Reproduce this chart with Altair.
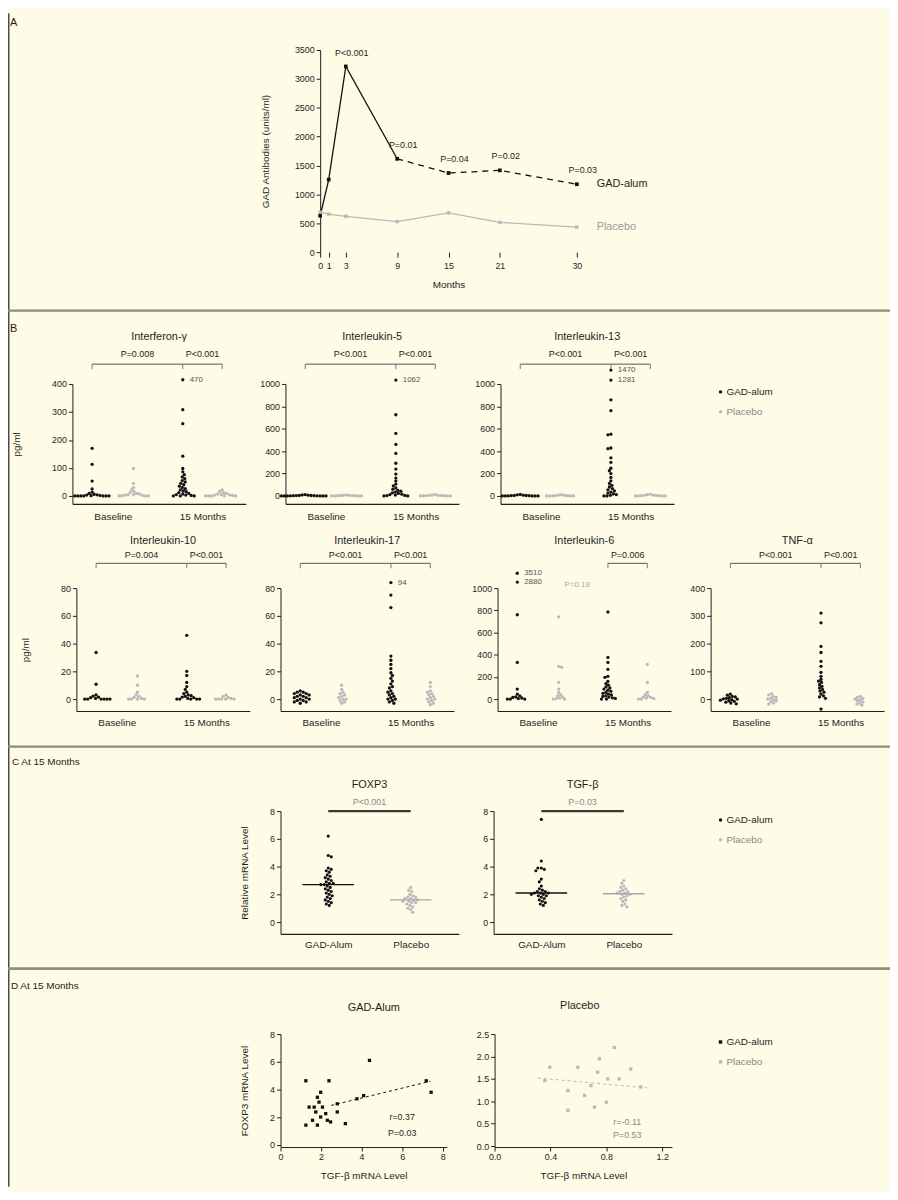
import statistics
import altair as alt
import pandas as pd

# ======================= DATA =======================
# Panel A: GAD antibody titres over time
A_MONTHS = [0, 1, 3, 9, 15, 21, 30]
A_GAD = [630, 1256, 3215, 1616, 1370, 1416, 1176]
A_PLACEBO = [690, 660, 620, 530, 680, 515, 435]
A_P_MONTHS = [3, 9, 15, 21, 30]
A_P_TEXT = ["P<0.001", "P=0.01", "P=0.04", "P=0.02", "P=0.03"]
A_X_TICKS = [0, 1, 3, 9, 15, 21, 30]
A_Y_TICKS = [0, 500, 1000, 1500, 2000, 2500, 3000, 3500]

# Panel B: cytokine secretion (GAD-alum baseline, placebo baseline, GAD-alum 15 m, placebo 15 m)
B_GROUP_LABELS = ["Baseline", "15 Months"]

IFNG_GAD_BASE = [170, 113, 53, 25, 14, 9, 6, 4, 3, 2, 1, 0, 0, 0, 0, 0, 0, 0]
IFNG_PLA_BASE = [98, 45, 30, 22, 16, 12, 9, 7, 5, 4, 3, 2, 1, 0, 0, 0]
IFNG_GAD_15 = [415, 308, 258, 142, 98, 86, 76, 68, 62, 55, 50, 45, 40, 35, 30, 26, 22, 18, 15, 12, 9, 7, 5, 3, 2, 0, 0, 0]
IFNG_PLA_15 = [22, 16, 12, 9, 7, 5, 4, 3, 2, 1, 0, 0, 0, 0]
IFNG_P = ["P=0.008", "P<0.001"]
IFNG_TOP_LABELS = ["470"]

IL5_GAD_BASE = [12, 9, 7, 5, 4, 3, 2, 2, 1, 1, 0, 0, 0, 0, 0, 0]
IL5_PLA_BASE = [9, 6, 5, 4, 3, 2, 1, 0, 0, 0, 0]
IL5_GAD_15 = [1035, 725, 558, 460, 380, 292, 240, 195, 160, 133, 106, 90, 72, 60, 50, 42, 35, 28, 22, 16, 12, 8, 5, 3, 0, 0]
IL5_PLA_15 = [14, 9, 6, 5, 4, 3, 2, 1, 0, 0, 0]
IL5_P = ["P<0.001", "P<0.001"]
IL5_TOP_LABELS = ["1062"]

IL13_GAD_BASE = [14, 10, 7, 5, 4, 3, 2, 1, 0, 0, 0, 0, 0]
IL13_PLA_BASE = [11, 8, 5, 3, 2, 1, 0, 0, 0, 0]
IL13_GAD_15 = [1124, 1035, 858, 761, 552, 546, 428, 422, 340, 300, 248, 225, 200, 165, 135, 112, 95, 80, 66, 55, 45, 35, 26, 18, 12, 6, 0, 0]
IL13_PLA_15 = [16, 11, 8, 6, 4, 3, 2, 1, 0, 0, 0]
IL13_P = ["P<0.001", "P<0.001"]
IL13_TOP_LABELS = ["1470", "1281"]

IL10_GAD_BASE = [33.6, 10.7, 3, 2.2, 1.5, 1, 0.5, 0, 0, 0, 0, 0, 0]
IL10_PLA_BASE = [16.7, 10, 5, 3, 2, 1.2, 0.5, 0, 0, 0, 0]
IL10_GAD_15 = [46, 20, 17, 12, 9, 7, 5, 4, 3, 2.5, 2, 1.5, 1, 0.5, 0, 0, 0, 0, 0]
IL10_PLA_15 = [3, 2, 1.2, 0.5, 0, 0, 0, 0, 0]
IL10_P = ["P=0.004", "P<0.001"]

IL17_GAD_BASE = [6, 5, 5, 4, 4, 3, 3, 2, 2, 1, 1, 0, 0, -1, -1, -2, -2, -3]
IL17_PLA_BASE = [10, 7, 5, 4, 3, 2, 1, 0, 0, -1, -2, -3]
IL17_GAD_15 = [84, 75, 66, 31, 28, 25, 22, 19, 17, 15, 13, 11, 9, 8, 6, 5, 4, 3, 2, 1, 0, 0, -1, -2, -3]
IL17_PLA_15 = [12, 9, 6, 5, 4, 3, 2, 1, 0, 0, -1, -2, -3, -4]
IL17_P = ["P<0.001", "P<0.001"]
IL17_TOP_LABELS = ["94"]

IL6_GAD_BASE = [1134, 1054, 760, 330, 90, 45, 30, 20, 15, 10, 5, 0, 0, 0]
IL6_PLA_BASE = [740, 295, 288, 150, 90, 60, 40, 30, 20, 10, 5, 0, 0]
IL6_GAD_15 = [785, 375, 330, 268, 205, 196, 160, 140, 125, 110, 100, 90, 80, 70, 60, 52, 45, 38, 30, 24, 18, 12, 6, 0, 0]
IL6_PLA_15 = [313, 150, 60, 40, 30, 20, 15, 10, 5, 0, 0]
IL6_P = ["P=0.006"]
IL6_TOP_LABELS = ["3510", "2880"]
IL6_NOTE = "P=0.18"

TNF_GAD_BASE = [18, 14, 10, 8, 5, 3, 1, 0, -2, -4, -6, -8, -11, -14, -17]
TNF_PLA_BASE = [20, 15, 10, 6, 3, 0, -3, -6, -10, -14, -18]
TNF_GAD_15 = [310, 275, 190, 168, 136, 118, 96, 82, 71, 65, 60, 52, 46, 40, 35, 29, 25, 18, 12, 8, 3, -36]
TNF_PLA_15 = [10, 6, 3, 0, -3, -6, -10, -14, -18, -22]
TNF_P = ["P<0.001", "P<0.001"]

# Panel C: relative mRNA at 15 months
C_GROUPS = ["GAD-Alum", "Placebo"]
FOXP3_GAD = [6.2, 4.8, 4.7, 3.9, 3.8, 3.7, 3.6, 3.4, 3.3, 3.2, 3.1, 3.0, 2.9, 2.8, 2.8, 2.7, 2.7, 2.6, 2.5, 2.4, 2.3, 2.2, 2.1, 2.0, 1.9, 1.8, 1.7, 1.6, 1.5, 1.4, 1.3, 1.2]
FOXP3_PLA = [2.5, 2.3, 2.2, 2.0, 1.9, 1.8, 1.8, 1.7, 1.7, 1.6, 1.6, 1.5, 1.5, 1.4, 1.4, 1.3, 1.2, 1.1, 1.0, 0.9, 0.7]
TGFB_GAD = [7.4, 4.4, 3.9, 3.9, 3.8, 3.7, 3.1, 2.9, 2.6, 2.4, 2.3, 2.2, 2.2, 2.1, 2.1, 2.1, 2.0, 2.0, 1.9, 1.9, 1.8, 1.7, 1.6, 1.5, 1.4, 1.3, 1.2]
TGFB_PLA = [3.0, 2.8, 2.6, 2.5, 2.4, 2.3, 2.2, 2.2, 2.1, 2.1, 2.0, 2.0, 1.9, 1.8, 1.7, 1.6, 1.5, 1.3, 1.2, 1.1]
C_Y_TICKS = [0, 2, 4, 6, 8]

# Panel D: FOXP3 vs TGF-beta mRNA at 15 months
D_GAD_TGF = [1.25, 2.39, 4.39, 7.43, 7.19, 3.2, 2.8, 2.8, 3.77, 4.1, 1.82, 1.9, 1.66, 2.07, 1.74, 2.23, 1.98, 1.58, 2.31, 1.82, 1.25, 1.41, 2.47, 1.98]
D_GAD_FOXP3 = [4.63, 4.63, 6.10, 3.80, 4.63, 1.54, 2.97, 2.38, 3.33, 3.56, 3.44, 3.09, 2.73, 2.73, 2.38, 2.26, 2.02, 1.78, 1.78, 1.43, 1.43, 2.73, 1.66, 3.80]
D_GAD_FIT_X = [2.5, 7.4]
D_GAD_FIT_Y = [2.85, 4.6]
D_GAD_STATS = ["r=0.37", "P=0.03"]
D_PLA_TGF = [0.395, 0.596, 0.75, 0.857, 0.975, 0.36, 0.525, 0.644, 0.69, 0.738, 0.81, 0.715, 0.525, 0.80, 1.046, 0.892]
D_PLA_FOXP3 = [1.76, 1.76, 1.95, 2.20, 1.72, 1.46, 1.24, 1.13, 1.35, 1.65, 1.50, 0.87, 0.80, 0.98, 1.32, 1.50]
D_PLA_FIT_X = [0.31, 1.09]
D_PLA_FIT_Y = [1.52, 1.30]
D_PLA_STATS = ["r=-0.11", "P=0.53"]

LEGEND_LABELS = ["GAD-alum", "Placebo"]

# ======================= STYLE / LAYOUT =======================
FONT = "Liberation Sans"
BLACK = "#111111"
GRAY = "#b9b9b9"
INK = "#1e1e1e"
BG = "#fefbe6"
SEP = "#8f8d80"
W, H = 890, 1184
ONE = pd.DataFrame({"k": [0]})


def vx(p):
    return p - 8


def vy(p):
    return p - 8


def xscale(dom, p0, p1):
    return alt.Scale(domain=dom, range=[vx(p0), vx(p1)], nice=False, zero=False)


def yscale(dom, pbot, ptop):
    return alt.Scale(domain=dom, range=[vy(pbot), vy(ptop)], nice=False, zero=False)


def left_axis(p_x, values, title=None, fmt="d", title_pad=20, size=9):
    return alt.Axis(orient="left", offset=-vx(p_x), values=values, grid=False, tickSize=4,
                    tickColor=INK, domainColor=INK, labelFontSize=size, labelPadding=2,
                    labelFlush=False, labelOverlap=False, labelColor=INK, format=fmt,
                    titleFontSize=10, titlePadding=title_pad, titleColor=INK, title=title)


def bottom_axis(p_y, values, **extra):
    kw = dict(orient="bottom", offset=vy(p_y) - H, values=values, grid=False,
              tickColor=INK, domainColor=INK, labelFlush=False, labelOverlap=False,
              labelColor=INK, titleColor=INK, titleFontSize=10)
    kw.update(extra)
    return alt.Axis(**kw)


class Frame:
    """Shared x/y encodings (same scale and axis) for every layer of one panel."""

    def __init__(self, xs, ys, xax, yax):
        self.xs, self.ys, self.xax, self.yax = xs, ys, xax, yax

    def X(self, f="x"):
        return alt.X(f, type="quantitative", scale=self.xs, axis=self.xax)

    def Y(self, f="y"):
        return alt.Y(f, type="quantitative", scale=self.ys, axis=self.yax)

    def points(self, df, color, shape="circle", size=11):
        return alt.Chart(df).mark_point(filled=True, shape=shape, size=size, color=color, opacity=1).encode(
            x=self.X(), y=self.Y())

    def text(self, df, **kw):
        base = dict(font=FONT, color=INK, fontSize=10, align="center", baseline="middle")
        base.update(kw)
        return alt.Chart(df).mark_text(**base).encode(x=self.X(), y=self.Y(), text="t:N")

    def hrule(self, df, **kw):
        return alt.Chart(df).mark_rule(**kw).encode(x=self.X(), x2="x2:Q", y=self.Y())

    def vrule(self, df, **kw):
        return alt.Chart(df).mark_rule(**kw).encode(x=self.X(), y=self.Y(), y2="y2:Q")

    def line(self, df, **kw):
        return alt.Chart(df).mark_line(**kw).encode(x=self.X(), y=self.Y())


def swarm(values, ppx, ppy, d=3.3):
    order = sorted(range(len(values)), key=lambda i: -values[i])
    placed = []
    offs = [0.0] * len(values)
    for i in order:
        yy = values[i] * ppy
        step = 0
        found = None
        flip = len(placed) % 2 == 1
        while found is None:
            if step == 0:
                cands = [0.0]
            else:
                cands = [0.5 * step, -0.5 * step]
                if flip:
                    cands = cands[::-1]
            for c in cands:
                if all((c - a) ** 2 + (yy - b) ** 2 >= d * d for a, b in placed):
                    found = c
                    break
            step += 1
        placed.append((found, yy))
        offs[i] = found / ppx
    return offs


def swarm_df(values, center, ppx, ppy, d=3.0):
    offs = swarm(values, ppx, ppy, d)
    return pd.DataFrame({"x": [center + o for o in offs], "y": values})


# ======================= PANEL A =======================
def panel_a():
    xs = xscale([0, 30], 323, 582)
    ys = yscale([0, 3500], 249, 45)
    xax = bottom_axis(249, A_X_TICKS, domain=False, tickSize=5, labelFontSize=9,
                      labelPadding=4, title="Months", titlePadding=10)
    yax = left_axis(323, A_Y_TICKS, title="GAD Antibodies (units/ml)", title_pad=24)
    F = Frame(xs, ys, xax, yax)
    gad = pd.DataFrame({"x": A_MONTHS, "y": A_GAD})
    pla = pd.DataFrame({"x": A_MONTHS, "y": A_PLACEBO})
    solid = F.line(gad[gad.x <= 9], color=BLACK, strokeWidth=1.3)
    dashed = F.line(gad[gad.x >= 9], color=BLACK, strokeWidth=1.3, strokeDash=[6, 5])
    pline = F.line(pla, color=GRAY, strokeWidth=1.3)
    gpts = F.points(gad, BLACK, shape="square", size=14)
    ppts = F.points(pla, GRAY, shape="square", size=12)
    pdf = pd.DataFrame({"x": A_P_MONTHS,
                        "y": [A_GAD[A_MONTHS.index(m)] for m in A_P_MONTHS],
                        "t": A_P_TEXT})
    ptxt = F.text(pdf, fontSize=9, dy=-14, dx=6)
    lab_g = F.text(pd.DataFrame({"x": [30], "y": [A_GAD[-1]], "t": [LEGEND_LABELS[0]]}),
                   fontSize=11, align="left", dx=20)
    lab_p = F.text(pd.DataFrame({"x": [30], "y": [A_PLACEBO[-1]], "t": [LEGEND_LABELS[1]]}),
                   fontSize=11, align="left", dx=20, color="#9a9a9a")
    return alt.layer(solid, pline, ppts, dashed, gpts, ptxt, lab_g, lab_p)


# ======================= PANEL B =======================
COLS4 = [0.5, 1.55, 2.8, 3.8]
B_XDOM = [0, 4.4]
B_W = 175
ROW1 = dict(ytop=382, yzero=495, ybot=503, title_dy=-27, p_dy=-10, bracket=362, lab_pad=8)
ROW2 = dict(ytop=588, yzero=700, ybot=712, title_dy=-23, p_dy=-8, bracket=563, lab_pad=7)


def cytokine_panel(title, groups, pvals, ticks, ymax, x0, row, ylabel=None,
                   top_labels=None, top_group=2, note=None, full_bracket=True):
    ppx = B_W / (B_XDOM[1] - B_XDOM[0])
    ppy = (row["yzero"] - row["ytop"]) / ymax
    ymin = -(row["ybot"] - row["yzero"]) / ppy
    xs = xscale(B_XDOM, x0, x0 + B_W)
    ys = yscale([ymin, ymax], row["ybot"], row["ytop"])
    lab_expr = "datum.value < 2 ? '%s' : '%s'" % (B_GROUP_LABELS[0], B_GROUP_LABELS[1])
    xax = bottom_axis(row["ybot"], [(COLS4[0] + COLS4[1]) / 2, (COLS4[2] + COLS4[3]) / 2],
                      ticks=False, tickSize=0, labelExpr=lab_expr, labelFontSize=10,
                      labelPadding=row["lab_pad"], domainWidth=1.2, title=None)
    yax = left_axis(x0, ticks, title=ylabel, title_pad=30)
    F = Frame(xs, ys, xax, yax)
    gad = pd.concat([swarm_df(groups[0], COLS4[0], ppx, ppy), swarm_df(groups[2], COLS4[2], ppx, ppy)])
    pla = pd.concat([swarm_df(groups[1], COLS4[1], ppx, ppy), swarm_df(groups[3], COLS4[3], ppx, ppy)])
    gp = F.points(gad, BLACK)
    pp = F.points(pla, GRAY)
    b = ymax + (row["ytop"] - row["bracket"]) / ppy
    tick_len = 5 / ppy
    cols = [0, 2, 3] if full_bracket else [2, 3]
    brk = F.hrule(pd.DataFrame({"x": [COLS4[cols[0]]], "x2": [COLS4[3]], "y": [b]}),
                  color="#555555", strokeWidth=1)
    tdf = pd.DataFrame({"x": [COLS4[c] for c in cols], "y": [b] * len(cols), "y2": [b - tick_len] * len(cols)})
    tks = F.vrule(tdf, color="#777777", strokeWidth=1)
    centers = [(COLS4[0] + COLS4[2]) / 2, (COLS4[2] + COLS4[3]) / 2] if full_bracket else [(COLS4[2] + COLS4[3]) / 2]
    ptx = F.text(pd.DataFrame({"x": centers, "y": [b] * len(centers), "t": pvals}), fontSize=9, dy=row["p_dy"])
    ttl = F.text(pd.DataFrame({"x": [sum(B_XDOM) / 2], "y": [b], "t": [title]}), fontSize=11, dy=row["title_dy"])
    layers = [gp, pp, brk, tks, ptx, ttl]
    if top_labels:
        tops = sorted(groups[top_group], reverse=True)[:len(top_labels)]
        ldf = pd.DataFrame({"x": [COLS4[top_group]] * len(tops), "y": tops, "t": top_labels})
        layers.append(F.text(ldf, fontSize=8, align="left", dx=7, color="#555555"))
    if note:
        ndf = pd.DataFrame({"x": [COLS4[1] + 0.15], "y": [ymax + 3 / ppy], "t": [note]})
        layers.append(F.text(ndf, fontSize=8, align="left", color="#aaaaaa"))
    return alt.layer(*layers)


# ======================= PANEL C =======================
C_COLS = [1.07, 2.92]


def mrna_panel(title, ptxt, gad_vals, pla_vals, x0, ylabel=None):
    xdom = [0, 4]
    wpx = 180
    ppx = wpx / 4
    ppy = (925 - 813) / 8
    ymin = -(937 - 925) / ppy
    xs = xscale(xdom, x0, x0 + wpx)
    ys = yscale([ymin, 8], 937, 813)
    lab_expr = "datum.value < 2 ? '%s' : '%s'" % (C_GROUPS[0], C_GROUPS[1])
    xax = bottom_axis(937, C_COLS, ticks=False, tickSize=0, labelExpr=lab_expr, labelFontSize=10,
                      labelPadding=6, domainWidth=1.2, title=None)
    yax = left_axis(x0, C_Y_TICKS, title=ylabel, title_pad=20)
    F = Frame(xs, ys, xax, yax)
    gad = swarm_df(gad_vals, C_COLS[0], ppx, ppy, d=3.2)
    pla = swarm_df(pla_vals, C_COLS[1], ppx, ppy, d=3.2)
    gp = F.points(gad, BLACK, size=10)
    pp = F.points(pla, GRAY, size=10)
    half = [26 / ppx, 21 / ppx]
    med_g = F.hrule(pd.DataFrame({"x": [C_COLS[0] - half[0]], "x2": [C_COLS[0] + half[0]],
                                  "y": [statistics.median(gad_vals)]}), color=BLACK, strokeWidth=1.5)
    med_p = F.hrule(pd.DataFrame({"x": [C_COLS[1] - half[1]], "x2": [C_COLS[1] + half[1]],
                                  "y": [statistics.median(pla_vals)]}), color="#a8a8a8", strokeWidth=1.5)
    brk = F.hrule(pd.DataFrame({"x": [C_COLS[0]], "x2": [C_COLS[1]], "y": [8]}), color="#3a3a3a", strokeWidth=2.2)
    mid = sum(C_COLS) / 2
    ttl = F.text(pd.DataFrame({"x": [mid], "y": [8], "t": [title]}), fontSize=11, dy=-26)
    ptx = F.text(pd.DataFrame({"x": [mid], "y": [8], "t": [ptxt]}), fontSize=9, dy=-9, color="#8a8a8a")
    return alt.layer(gp, pp, med_g, med_p, brk, ttl, ptx)


# ======================= PANEL D =======================
def scatter_gad():
    xs = xscale([0, 8.2], 283, 283 + 8.2 * 20.45)
    ys = yscale([-0.15, 8], 1152, 1038)
    xax = bottom_axis(1152, [0, 2, 4, 6, 8], tickSize=4, labelFontSize=9, labelPadding=2,
                      format="d", title="TGF-β mRNA Level", titlePadding=9)
    yax = left_axis(283, [0, 2, 4, 6, 8], title="FOXP3 mRNA Level", title_pad=20)
    F = Frame(xs, ys, xax, yax)
    pts = F.points(pd.DataFrame({"x": D_GAD_TGF, "y": D_GAD_FOXP3}), BLACK, shape="square", size=11)
    fit = F.line(pd.DataFrame({"x": D_GAD_FIT_X, "y": D_GAD_FIT_Y}), color=BLACK, strokeWidth=1, strokeDash=[3, 3])
    st = F.text(pd.DataFrame({"x": [6.0, 6.0], "y": [2.0, 0.86], "t": D_GAD_STATS}), fontSize=9)
    ttl = F.text(pd.DataFrame({"x": [4.6], "y": [8], "t": [C_GROUPS[0]]}), fontSize=11, dy=-26)
    return alt.layer(pts, fit, st, ttl)


def scatter_pla():
    xs = xscale([0, 1.27], 499, 678)
    ys = yscale([-0.02, 2.5], 1152, 1038)
    xax = bottom_axis(1152, [0, 0.4, 0.8, 1.2], tickSize=4, labelFontSize=9, labelPadding=2,
                      format=".1f", title="TGF-β mRNA Level", titlePadding=9)
    yax = left_axis(499, [0, 0.5, 1.0, 1.5, 2.0, 2.5], fmt=".1f")
    F = Frame(xs, ys, xax, yax)
    pts = F.points(pd.DataFrame({"x": D_PLA_TGF, "y": D_PLA_FOXP3}), GRAY, shape="square", size=11)
    fit = F.line(pd.DataFrame({"x": D_PLA_FIT_X, "y": D_PLA_FIT_Y}), color=GRAY, strokeWidth=1, strokeDash=[3, 3])
    st = F.text(pd.DataFrame({"x": [0.95, 0.95], "y": [0.53, 0.24], "t": D_PLA_STATS}), fontSize=9, color="#8a8a8a")
    ttl = F.text(pd.DataFrame({"x": [0.61], "y": [2.5], "t": [C_GROUPS[1]]}), fontSize=11, dy=-28)
    return alt.layer(pts, fit, st, ttl)


# ======================= DECORATION =======================
def hline(py, color=SEP, width=2.2):
    return alt.Chart(ONE).mark_rule(color=color, strokeWidth=width).encode(
        x=alt.value(0), x2=alt.value(W), y=alt.value(vy(py)))


def label(text, ppx, ppy, size=11, color=INK):
    return alt.Chart(ONE).mark_text(text=text, font=FONT, fontSize=size, color=color,
                                    align="left", baseline="middle").encode(
        x=alt.value(vx(ppx)), y=alt.value(vy(ppy)))


def legend(py, shape):
    out = []
    for i, (lab, col) in enumerate(zip(LEGEND_LABELS, [BLACK, GRAY])):
        y = py + 20 * i
        out.append(alt.Chart(ONE).mark_point(filled=True, shape=shape, size=12, color=col, opacity=1).encode(
            x=alt.value(vx(727)), y=alt.value(vy(y))))
        out.append(label(lab, 733, y, size=10, color=INK if i == 0 else "#8a8a8a"))
    return out


decor = [
    alt.Chart(ONE).mark_rule(color="#4a4a4a", strokeWidth=1.5).encode(
        x=alt.value(0.75), y=alt.value(0), y2=alt.value(H)),
    hline(308), hline(748), hline(972, width=2.6),
    label("A", 10, 18), label("B", 10, 327),
    label("C  At 15 Months", 12, 763, size=10), label("D  At 15 Months", 11, 990, size=10),
]
decor += legend(390, "circle") + legend(822, "circle") + legend(1046, "square")

panels = [
    panel_a(),
    cytokine_panel("Interferon-γ", [IFNG_GAD_BASE, IFNG_PLA_BASE, IFNG_GAD_15, IFNG_PLA_15], IFNG_P,
                   [0, 100, 200, 300, 400], 400, 73, ROW1, ylabel="pg/ml", top_labels=IFNG_TOP_LABELS),
    cytokine_panel("Interleukin-5", [IL5_GAD_BASE, IL5_PLA_BASE, IL5_GAD_15, IL5_PLA_15], IL5_P,
                   [0, 200, 400, 600, 800, 1000], 1000, 288, ROW1, top_labels=IL5_TOP_LABELS),
    cytokine_panel("Interleukin-13", [IL13_GAD_BASE, IL13_PLA_BASE, IL13_GAD_15, IL13_PLA_15], IL13_P,
                   [0, 200, 400, 600, 800, 1000], 1000, 505, ROW1, top_labels=IL13_TOP_LABELS),
    cytokine_panel("Interleukin-10", [IL10_GAD_BASE, IL10_PLA_BASE, IL10_GAD_15, IL10_PLA_15], IL10_P,
                   [0, 20, 40, 60, 80], 80, 77, ROW2, ylabel="pg/ml"),
    cytokine_panel("Interleukin-17", [IL17_GAD_BASE, IL17_PLA_BASE, IL17_GAD_15, IL17_PLA_15], IL17_P,
                   [0, 20, 40, 60, 80], 80, 283, ROW2, top_labels=IL17_TOP_LABELS),
    cytokine_panel("Interleukin-6", [IL6_GAD_BASE, IL6_PLA_BASE, IL6_GAD_15, IL6_PLA_15], IL6_P,
                   [0, 200, 400, 600, 800, 1000], 1000, 502, ROW2, top_labels=IL6_TOP_LABELS,
                   top_group=0, note=IL6_NOTE, full_bracket=False),
    cytokine_panel("TNF-α", [TNF_GAD_BASE, TNF_PLA_BASE, TNF_GAD_15, TNF_PLA_15], TNF_P,
                   [0, 100, 200, 300, 400], 400, 717, ROW2),
    mrna_panel("FOXP3", "P<0.001", FOXP3_GAD, FOXP3_PLA, 283, ylabel="Relative mRNA Level"),
    mrna_panel("TGF-β", "P=0.03", TGFB_GAD, TGFB_PLA, 498),
    scatter_gad(),
    scatter_pla(),
]

chart = alt.layer(*(decor + panels)).resolve_scale(
    x="independent", y="independent"
).resolve_axis(
    x="independent", y="independent"
).properties(
    width=W, height=H, autosize=alt.AutoSizeParams(type="none"), padding=0, background=BG
).configure_view(
    stroke=None
).configure_axis(
    labelFont=FONT, titleFont=FONT, titleFontWeight="normal", grid=False
)

chart.save("out.html", embed_options={"renderer": "svg", "actions": False})
